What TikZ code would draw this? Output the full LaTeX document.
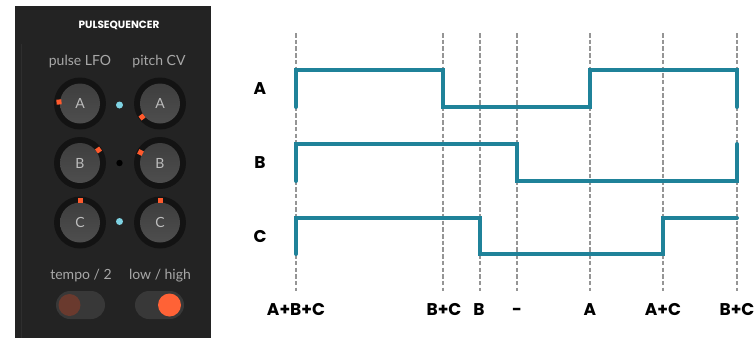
\documentclass[tikz,border=0pt]{standalone}
\usepackage{fontspec}
\setmainfont{Lato}
\newfontfamily\labelfont{Poppins}
\definecolor{panelbg}{HTML}{232323}
\definecolor{panelline}{HTML}{2E2E2E}
\definecolor{wavecol}{HTML}{1F8299}
\definecolor{guidecol}{HTML}{959595}
\definecolor{markcol}{HTML}{FF5A2D}
\definecolor{cyandot}{HTML}{7FD3E3}
\definecolor{knobtxt}{HTML}{BDBDBD}
\definecolor{captxt}{HTML}{A8A8A8}
\definecolor{ringcol}{HTML}{131313}
\definecolor{knobtop}{HTML}{4E4E4E}
\definecolor{knobbot}{HTML}{3E3E3E}
\definecolor{pillcol}{HTML}{383838}
\definecolor{dimknob}{HTML}{6A3A2E}
\definecolor{liveknob}{HTML}{FF6236}

% one rotary knob: x, y, letter, name
\newcommand\knobat[4]{%
  \fill[ringcol] (#1,#2) circle (26);
  \shade[top color=knobbot, bottom color=knobtop] (#1,#2) circle (20);
  \node[knobletter] (#4) at (#1,#2) {#3};
}

\begin{document}
\begin{tikzpicture}[x=1pt,y=-1pt,
  wave/.style={draw=wavecol, line width=4pt, line cap=round, line join=miter},
  guide/.style={draw=guidecol, line width=2.6pt, dash pattern=on 4.5pt off 2.2pt},
  tlabel/.style={font=\labelfont\bfseries\fontsize{17}{17}\selectfont, text=black, inner sep=0pt},
  caption/.style={font=\fontsize{14}{14}\selectfont, text=captxt, inner sep=0pt},
  knobletter/.style={font=\fontsize{14}{14}\selectfont, text=knobtxt, inner sep=0pt},
  marker/.style={fill=markcol, minimum size=5pt, inner sep=0pt, draw=none},
  ]
\useasboundingbox (0,0) rectangle (755,338);

% ---- control panel ----
\fill[panelbg] (15,6) rectangle (211,338);
\draw[panelline, line width=0.8pt] (21,44) -- (21,338);
\node[font=\labelfont\bfseries\fontsize{10.5}{11}\selectfont, text=white, inner sep=0pt] (title) at (119,25) {PULSEQUENCER};

\node[caption] (lfo) at (80,62) {pulse LFO};
\node[caption] (pcv) at (159,62) {pitch CV};

\knobat{80}{103.5}{A}{la}
\knobat{160}{103.5}{A}{ra}
\knobat{80}{163}{B}{lb}
\knobat{160}{163}{B}{rb}
\knobat{80}{222.5}{C}{lc}
\knobat{160}{222.5}{C}{rc}

\node[marker, rotate=4] (mla) at (59,102) {};
\node[marker, rotate=37] (mra) at (142,117) {};
\node[marker, rotate=35] (mlb) at (98.5,150) {};
\node[marker, rotate=-27] (mrb) at (140.5,152.5) {};
\node[marker] (mlc) at (80,200) {};
\node[marker] (mrc) at (160,200) {};

\fill[cyandot] (119.5,105) circle (3.5);
\fill[black] (119.5,163) circle (3.2);
\fill[cyandot] (119.5,221.5) circle (3.5);

\node[caption] (tempo) at (81,276) {tempo / 2};
\node[caption] (range) at (160,276) {low / high};

\fill[pillcol, rounded corners=14pt] (56,291) rectangle (105,319);
\fill[dimknob] (69.5,305) circle (11);
\fill[pillcol, rounded corners=14pt] (135,291) rectangle (184,319);
\fill[liveknob] (169.5,305) circle (11.5);

% ---- timing diagram ----
\foreach \x in {296,443,480,517,590,663,737}
  \draw[guide] (\x,33) -- (\x,291);

\draw[wave] (296,107) -- (296,70) -- (443,70) -- (443,107) -- (590,107)
  -- (590,70) -- (737,70) -- (737,107);
\draw[wave] (296,181) -- (296,144) -- (517,144) -- (517,181) -- (737,181)
  -- (737,144);
\draw[wave] (296,254) -- (296,218) -- (480,218) -- (480,254) -- (663,254)
  -- (663,218) -- (737,218);

\node[tlabel] (rowa) at (260,89) {A};
\node[tlabel] (rowb) at (260,163) {B};
\node[tlabel] (rowc) at (260,237) {C};

\node[tlabel] (s1) at (296,310) {A+B+C};
\node[tlabel] (s2) at (444,310) {B+C};
\node[tlabel] (s3) at (479,310) {B};
\node[tlabel, yshift=-2pt] (s4) at (517,310) {-};
\node[tlabel] (s5) at (590,310) {A};
\node[tlabel] (s6) at (663,310) {A+C};
\node[tlabel] (s7) at (737,310) {B+C};
\end{tikzpicture}
\end{document}
